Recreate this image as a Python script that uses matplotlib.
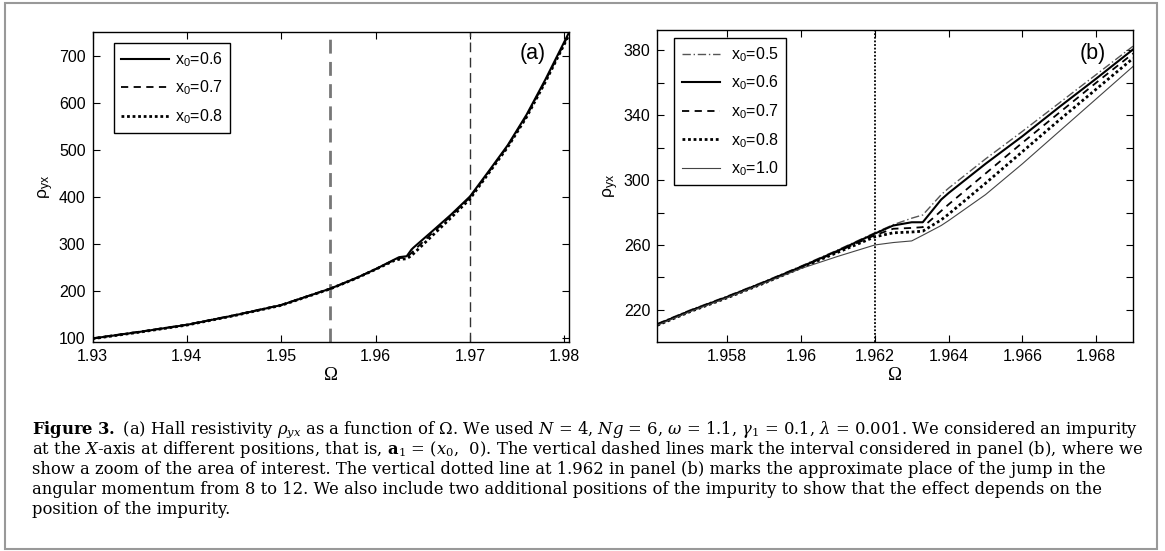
import matplotlib
matplotlib.use('Agg')
import matplotlib.pyplot as plt
from matplotlib.patches import Rectangle
import numpy as np

plt.rcParams['font.family'] = ['Liberation Sans', 'DejaVu Sans']
plt.rcParams['mathtext.fontset'] = 'custom'
plt.rcParams['mathtext.rm'] = 'DejaVu Serif'
plt.rcParams['mathtext.it'] = 'DejaVu Serif:italic'
plt.rcParams['mathtext.bf'] = 'DejaVu Serif:bold'
plt.rcParams['mathtext.sf'] = 'Liberation Sans'

# panel (a): full range
omega_a = [1.930, 1.935, 1.940, 1.945, 1.950, 1.9552, 1.958, 1.960, 1.962, 1.9625,
           1.9633, 1.9638, 1.964, 1.966, 1.968, 1.970, 1.972, 1.974, 1.976, 1.978, 1.9805]
rho_a_06 = [99, 113, 128, 148, 170, 205, 228, 246.5, 267, 272,
            274, 288, 292, 327, 362.5, 401, 455, 510, 575, 650, 750]
rho_a_07 = [99.5, 113.5, 128.5, 148.5, 170.5, 205, 228, 246.5, 266, 270,
            271, 281, 285, 323, 360, 399, 453, 508, 572, 647, 747]
rho_a_08 = [98.5, 112.5, 127.5, 147.5, 169.5, 204.5, 227.5, 246, 265, 267.5,
            268.5, 275.5, 279, 317.5, 356, 396, 451, 506, 570, 645, 745]
vlines_a = [1.9552, 1.970]

# panel (b): zoom
omega_b = [1.9561, 1.957, 1.958, 1.959, 1.960, 1.961, 1.962, 1.9625, 1.963, 1.9633,
           1.9638, 1.964, 1.965, 1.966, 1.967, 1.968, 1.969]
rho_b_05 = [211.5, 220, 228.5, 237.5, 247, 257, 267.5, 272.5, 276.5, 278.5,
            291, 295, 313, 330, 347.5, 365, 382.5]
rho_b_06 = [211, 219.5, 228, 237, 246.5, 256.5, 267, 272, 274, 274,
            288, 292, 310, 327, 345, 362.5, 380.5]
rho_b_07 = [211, 219.5, 228, 237, 246.5, 256, 266, 270, 270.5, 271,
            281, 285, 304, 323, 341.5, 360, 378]
rho_b_08 = [210.5, 219, 227.5, 236.5, 246, 255.5, 265, 267.5, 268, 268.5,
            275.5, 279, 298, 317.5, 337, 356, 375]
rho_b_10 = [210.5, 219, 227.5, 236.5, 245.5, 253, 260, 261.5, 262.5, 266,
            272, 275, 291, 310, 330, 350, 370]
vline_b = 1.962

xticks_a = [1.93, 1.94, 1.95, 1.96, 1.97, 1.98]
xticklabels_a = ['1.93', '1.94', '1.95', '1.96', '1.97', '1.98']
yticks_a = [100, 200, 300, 400, 500, 600, 700]
xticks_b = [1.958, 1.960, 1.962, 1.964, 1.966, 1.968]
xticklabels_b = ['1.958', '1.96', '1.962', '1.964', '1.966', '1.968']
yticks_b = [220, 240, 260, 280, 300, 320, 340, 360, 380]
yticklabels_b = ['220', '', '260', '', '300', '', '340', '', '380']

caption = [
    r"$\mathbf{Figure\ 3.}$ (a) Hall resistivity $\rho_{yx}$ as a function of Ω. We used $N$ = 4, $Ng$ = 6, $\omega$ = 1.1, $\gamma_1$ = 0.1, $\lambda$ = 0.001. We considered an impurity",
    r"at the $X$-axis at different positions, that is, $\mathbf{a}_1$ = ($x_0$,  0). The vertical dashed lines mark the interval considered in panel (b), where we",
    r"show a zoom of the area of interest. The vertical dotted line at 1.962 in panel (b) marks the approximate place of the jump in the",
    r"angular momentum from 8 to 12. We also include two additional positions of the impurity to show that the effect depends on the",
    r"position of the impurity.",
]

W, H = 1165, 551
fig = plt.figure(figsize=(W / 100, H / 100), dpi=100)


def style_axes(ax):
    ax.tick_params(direction='in', top=True, right=True, length=5, width=0.8,
                   labelsize=11.5, pad=5)
    for s in ax.spines.values():
        s.set_linewidth(1.0)
    ax.set_xlabel('Ω', fontsize=13.5, family='Liberation Serif', labelpad=2)
    ax.set_ylabel(r'ρ$_{\mathsf{yx}}$', fontsize=12.5, labelpad=2)


def make_legend(ax, anchor, hlen, hpad):
    leg = ax.legend(loc='upper left', bbox_to_anchor=anchor, borderaxespad=0,
                    fontsize=11.5, handlelength=hlen, handletextpad=hpad,
                    labelspacing=0.62, borderpad=0.45, fancybox=False,
                    framealpha=1, edgecolor='black')
    leg.get_frame().set_linewidth(1.0)
    return leg


ax1 = fig.add_axes([92.5 / W, 1 - 342 / H, (569 - 92.5) / W, (342 - 32) / H])
ax1.axvline(vlines_a[0], color='#777777', lw=2, ls=(0, (5, 3)))
ax1.axvline(vlines_a[1], color='#333333', lw=1, ls=(0, (7, 4)))
ax1.plot(omega_a, rho_a_06, color='black', lw=1.5, ls='-', label=r'x$_\mathsf{0}$=0.6')
ax1.plot(omega_a, rho_a_07, color='black', lw=1.3, ls=(0, (4, 3)), label=r'x$_\mathsf{0}$=0.7')
ax1.plot(omega_a, rho_a_08, color='black', lw=2, ls=(0, (1, 1)), label=r'x$_\mathsf{0}$=0.8')
ax1.set_xlim(1.93, 1.9805)
ax1.set_ylim(91.5, 751)
ax1.set_xticks(xticks_a)
ax1.set_xticklabels(xticklabels_a)
ax1.set_yticks(yticks_a)
style_axes(ax1)
make_legend(ax1, (0.0443, 0.9645), 3.0, 0.4)
ax1.text(0.952, 0.93, '(a)', transform=ax1.transAxes, fontsize=15.5, ha='right', va='center')

ax2 = fig.add_axes([657.2 / W, 1 - 342 / H, (1133 - 657.2) / W, (342 - 30) / H])
ax2.axvline(vline_b, color='black', lw=1.3, ls=(0, (1, 1)))
ax2.plot(omega_b, rho_b_05, color='#555555', lw=1.0, ls=(0, (6, 2, 1, 2)), label=r'x$_\mathsf{0}$=0.5')
ax2.plot(omega_b, rho_b_06, color='black', lw=1.5, ls='-', label=r'x$_\mathsf{0}$=0.6')
ax2.plot(omega_b, rho_b_07, color='black', lw=1.3, ls=(0, (4, 3)), label=r'x$_\mathsf{0}$=0.7')
ax2.plot(omega_b, rho_b_08, color='black', lw=2, ls=(0, (1, 1)), label=r'x$_\mathsf{0}$=0.8')
ax2.plot(omega_b, rho_b_10, color='#444444', lw=0.8, ls='-', label=r'x$_\mathsf{0}$=1.0')
ax2.set_xlim(1.9561, 1.969)
ax2.set_ylim(200.2, 392.5)
ax2.set_xticks(xticks_b)
ax2.set_xticklabels(xticklabels_b)
ax2.set_yticks(yticks_b)
ax2.set_yticklabels(yticklabels_b)
style_axes(ax2)
make_legend(ax2, (0.0361, 0.9744), 2.4, 0.7)
ax2.text(0.943, 0.925, '(b)', transform=ax2.transAxes, fontsize=15.5, ha='right', va='center')

# caption lines
cap_y = [426, 446.5, 467, 487.5, 508]
for line, yc in zip(caption, cap_y):
    fig.text(32 / W, 1 - yc / H, line, fontsize=11.8, family='DejaVu Serif',
             ha='left', va='center_baseline')

# frame around figure
fig.patches.append(Rectangle((5 / W, 2 / H), 1152 / W, 546 / H, transform=fig.transFigure,
                             fill=False, edgecolor='#999999', lw=1.5))

fig.savefig('out.png', dpi=100)
